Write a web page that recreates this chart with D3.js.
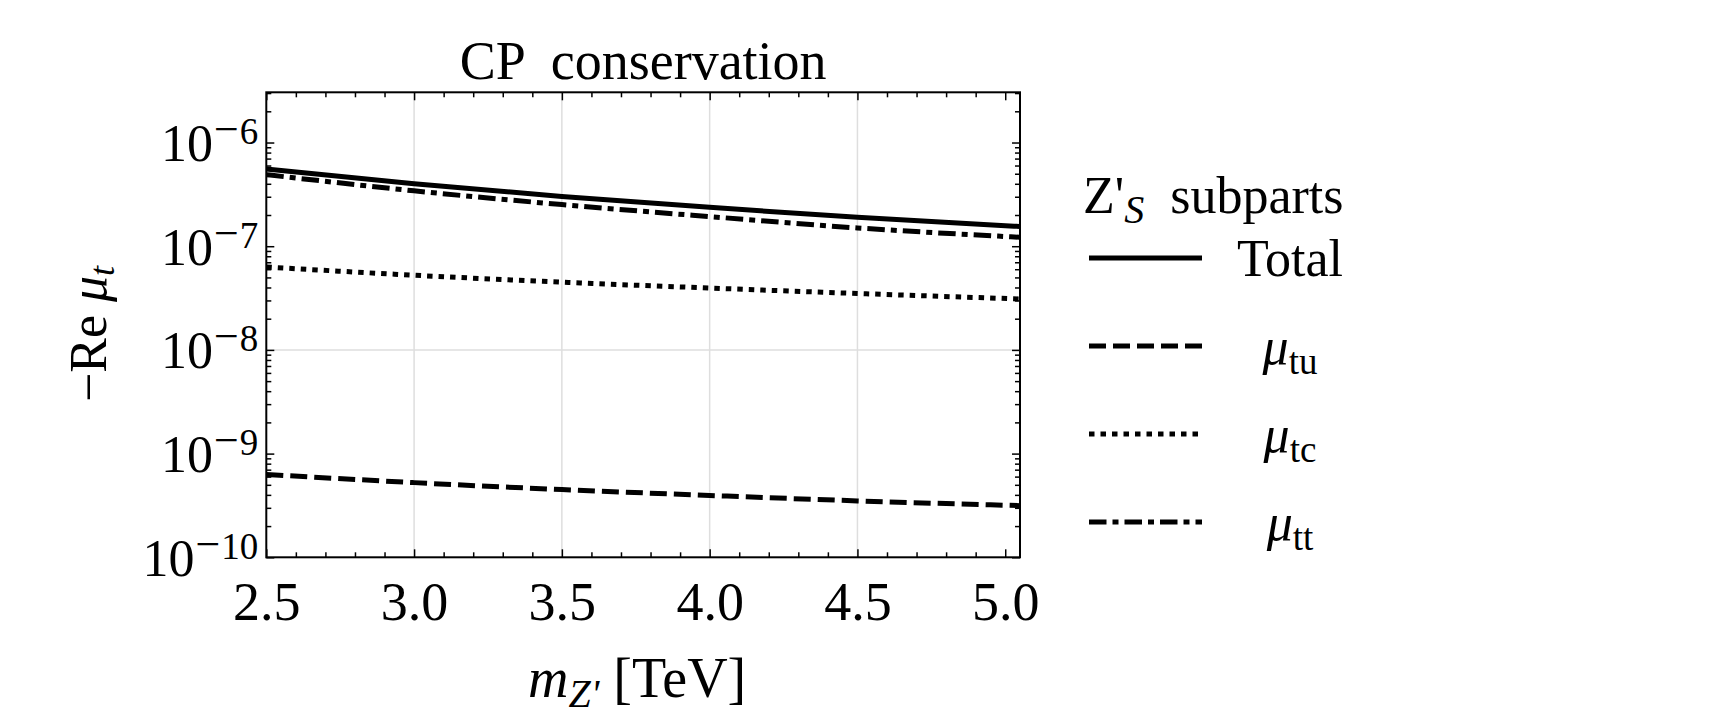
<!DOCTYPE html>
<html lang="en">
<head>
<meta charset="utf-8">
<title>CP conservation</title>
<script src="https://d3js.org/d3.v7.min.js"></script>
<style>
	body{margin:0;background:#fff;}
	svg text{font-family:"Liberation Serif","DejaVu Serif",serif;fill:#000;}
</style>
</head>
<body>
<svg id="chart"></svg>
<script>

// values, m_Z' in TeV
var mass  = [2.5, 3.0, 3.5, 4.0, 4.5, 5.05];
var total = [5.55e-7, 4.0e-7, 3.02e-7, 2.37e-7, 1.9e-7, 1.55e-7];
var muTu  = [6.3e-10, 5.25e-10, 4.5e-10, 3.95e-10, 3.5e-10, 3.15e-10];
var muTc  = [6.3e-8, 5.25e-8, 4.5e-8, 3.95e-8, 3.5e-8, 3.1e-8];
var muTt  = [4.9e-7, 3.42e-7, 2.52e-7, 1.93e-7, 1.5e-7, 1.22e-7];

var xTicks = [2.5, 3.0, 3.5, 4.0, 4.5, 5.0];
var yExponents = [-10, -9, -8, -7, -6];
var xGrid = [3.0, 3.5, 4.0, 4.5];
var yGrid = [1e-8];
var legendNames = ["Total", "tu", "tc", "tt"];

var width = 1716;
var height = 711;
var border = {left:266.3, right:1020, top:92.3, bottom:557.3};

var chart = d3.select("#chart")
	.attr("width", width)
	.attr("height", height);

var xScale = d3.scaleLinear()
	.domain([2.5, 5.05])
	.range([border.left, border.right]);

var yScale = d3.scaleLog()
	.domain([1e-10, 3.05e-6])
	.range([border.bottom, border.top]);

// minor tick positions
var xMinor = d3.range(25, 51).map(d => d/10).filter(d => xTicks.indexOf(d) < 0);
var yMinor = [];
yExponents.forEach(function(e){
	for (var k = 2; k <= 9; k++) {
		var v = k*Math.pow(10, e);
		if (v < yScale.domain()[1]) yMinor.push(v);
	}
});

// grid
chart.append("g").selectAll("line")
	.data(xGrid).enter().append("line")
	.attr("x1", d => xScale(d)).attr("x2", d => xScale(d))
	.attr("y1", border.top).attr("y2", border.bottom)
	.attr("stroke", "#dedede").attr("stroke-width", 1.5);
chart.append("g").selectAll("line")
	.data(yGrid).enter().append("line")
	.attr("x1", border.left).attr("x2", border.right)
	.attr("y1", d => yScale(d)).attr("y2", d => yScale(d))
	.attr("stroke", "#dedede").attr("stroke-width", 1.5);

// curves
chart.append("clipPath").attr("id", "plotClip")
	.append("rect")
	.attr("x", border.left).attr("y", border.top)
	.attr("width", border.right - border.left)
	.attr("height", border.bottom - border.top);

var series = [
	{values: total, dash: null},
	{values: muTu, dash: "17,7"},
	{values: muTc, dash: "5.5,6"},
	{values: muTt, dash: "17.5,6,6,6"}
];

var line = d3.line()
	.x((d, i) => xScale(mass[i]))
	.y(d => yScale(d))
	.curve(d3.curveMonotoneX);

chart.append("g")
	.attr("clip-path", "url(#plotClip)")
	.selectAll("path")
	.data(series).enter().append("path")
	.attr("d", d => line(d.values))
	.attr("fill", "none")
	.attr("stroke", "#000")
	.attr("stroke-width", 5)
	.attr("stroke-dasharray", d => d.dash);

// ticks, all pointing inside the frame
function tickAxis(axis, values, size, transform) {
	var g = chart.append("g")
		.attr("transform", transform)
		.call(axis.tickValues(values).tickSize(size).tickSizeOuter(0).tickFormat(""));
	g.select(".domain").remove();
	g.selectAll(".tick line").attr("stroke-width", 1.5);
	return g;
}
tickAxis(d3.axisBottom(xScale), xTicks, -8, "translate(0," + border.bottom + ")");
tickAxis(d3.axisBottom(xScale), xMinor, -5, "translate(0," + border.bottom + ")");
tickAxis(d3.axisTop(xScale), xTicks, -8, "translate(0," + border.top + ")");
tickAxis(d3.axisTop(xScale), xMinor, -5, "translate(0," + border.top + ")");
tickAxis(d3.axisLeft(yScale), yExponents.map(e => Math.pow(10, e)), -8, "translate(" + border.left + ",0)");
tickAxis(d3.axisLeft(yScale), yMinor, -5, "translate(" + border.left + ",0)");
tickAxis(d3.axisRight(yScale), yExponents.map(e => Math.pow(10, e)), -8, "translate(" + border.right + ",0)");
tickAxis(d3.axisRight(yScale), yMinor, -5, "translate(" + border.right + ",0)");

// frame
chart.append("rect")
	.attr("x", border.left).attr("y", border.top)
	.attr("width", border.right - border.left)
	.attr("height", border.bottom - border.top)
	.attr("fill", "none").attr("stroke", "#000").attr("stroke-width", 2);

// x tick labels
var xLab = chart.append("g")
	.attr("transform", "translate(0," + border.bottom + ")")
	.call(d3.axisBottom(xScale).tickValues(xTicks).tickSize(0).tickPadding(24).tickFormat(d3.format(".1f")));
xLab.select(".domain").remove();
xLab.attr("font-family", null).attr("font-size", null);
xLab.selectAll("text").style("font-size", "54px");

// y tick labels 10^n
var yLab = chart.append("g")
	.attr("transform", "translate(" + (border.left - 8) + ",0)")
	.call(d3.axisLeft(yScale).tickValues(yExponents.map(e => Math.pow(10, e))).tickSize(0).tickPadding(0).tickFormat(""));
yLab.select(".domain").remove();
yLab.attr("font-family", null).attr("font-size", null);
yLab.selectAll("text")
	.attr("dy", "18px")
	.style("font-size", "52px")
	.each(function(d){
		var t = d3.select(this);
		t.append("tspan").text("10");
		t.append("tspan").attr("dy", "-17px").attr("dx", "1px").style("font-size", "44px").text("\u2212");
		t.append("tspan").attr("dx", "1px").style("font-size", "37px")
			.text(Math.abs(Math.round(Math.log10(d))));
	});

// title
chart.append("text")
	.attr("x", (border.left + border.right)/2).attr("y", 79)
	.attr("text-anchor", "middle")
	.style("font-size", "54px").style("white-space", "pre")
	.text("CP  conservation");

// x axis label
var xt = chart.append("text")
	.attr("x", (border.left + border.right)/2 - 6).attr("y", 697)
	.attr("text-anchor", "middle")
	.style("font-size", "56px").style("white-space", "pre");
xt.append("tspan").style("font-style", "italic").text("m");
xt.append("tspan").attr("dy", "10px").style("font-style", "italic").style("font-size", "40px").text("Z'");
xt.append("tspan").attr("dy", "-10px").text(" [TeV]");

// y axis label
var yt = chart.append("text")
	.attr("transform", "translate(106,334) rotate(-90)")
	.attr("text-anchor", "middle")
	.style("font-size", "52px").style("white-space", "pre");
yt.append("tspan").text("\u2212Re ");
yt.append("tspan").style("font-style", "italic").text("\u03bc");
yt.append("tspan").attr("dy", "8px").style("font-style", "italic").style("font-size", "36px").text("t");

// legend
var lt = chart.append("text")
	.attr("x", 1083).attr("y", 213)
	.style("font-size", "52px").style("white-space", "pre");
lt.append("tspan").text("Z'");
lt.append("tspan").attr("dy", "10px").style("font-style", "italic").style("font-size", "40px").text("S");
lt.append("tspan").attr("dy", "-10px").text("  subparts");

var legend = chart.append("g").selectAll("g")
	.data(series).enter().append("g")
	.attr("transform", (d, i) => "translate(0," + (258 + i*88) + ")");

legend.append("line")
	.attr("x1", 1089).attr("x2", 1202)
	.attr("stroke", "#000").attr("stroke-width", 5)
	.attr("stroke-dasharray", d => d.dash);

legend.append("text")
	.attr("x", 1290).attr("y", 18)
	.attr("text-anchor", "middle")
	.style("font-size", "52px")
	.each(function(d, i){
		var t = d3.select(this);
		if (i == 0) {
			t.text(legendNames[i]);
		} else {
			t.append("tspan").style("font-style", "italic").text("\u03bc");
			t.append("tspan").attr("dy", "10px").style("font-size", "37px").text(legendNames[i]);
		}
	});

</script>
</body>
</html>
